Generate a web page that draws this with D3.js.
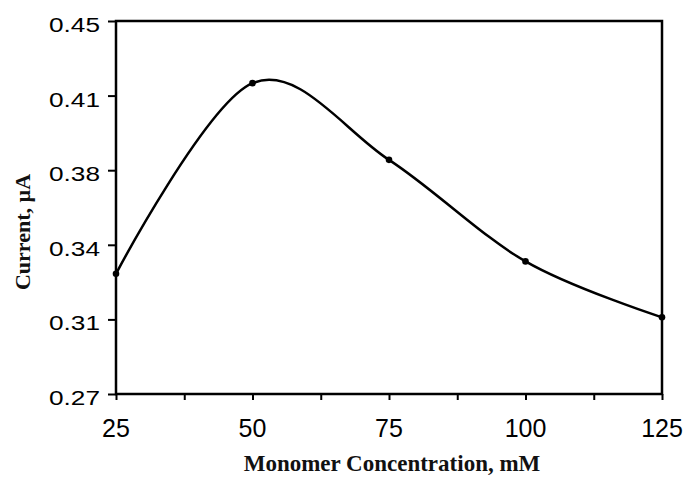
<!DOCTYPE html>
<html>
<head>
<meta charset="utf-8">
<script src="https://cdn.jsdelivr.net/npm/d3@7"></script>
<style>
  html, body { margin: 0; padding: 0; background: #fff; }
  svg { display: block; }
</style>
</head>
<body>
<svg id="chart" width="686" height="477"></svg>
<script>
const concentrations = [25, 50, 75, 100, 125];
const currents = [0.328, 0.420, 0.383, 0.334, 0.307];
const xTickValues = [25, 50, 75, 100, 125];
const xMinorTicks = [37.5, 62.5, 87.5, 112.5];
const yTickValues = [0.27, 0.306, 0.342, 0.378, 0.414, 0.45];
const yTickLabels = ["0.27", "0.31", "0.34", "0.38", "0.41", "0.45"];
const xTitle = "Monomer Concentration, mM";
const yTitle = "Current, µA";

const margin = {left: 116, top: 21, right: 24, bottom: 83};
const W = 686, H = 477;
const svg = d3.select("#chart");

const x = d3.scaleLinear().domain([25, 125]).range([margin.left, W - margin.right]);
const y = d3.scaleLinear().domain([0.27, 0.45]).range([H - margin.bottom, margin.top]);

// Y axis ticks (outward, left)
const yAxis = d3.axisLeft(y).tickValues(yTickValues).tickSize(8).tickFormat("");
const gy = svg.append("g").attr("transform", `translate(${margin.left},0)`).call(yAxis);
gy.select(".domain").remove();
gy.selectAll("line").attr("stroke", "#000").attr("stroke-width", 2);

svg.append("g").selectAll("text").data(yTickValues).join("text")
  .attr("x", 100)
  .attr("y", d => y(d) + 11)
  .attr("text-anchor", "end")
  .attr("font-family", "Liberation Sans, Arial, sans-serif")
  .attr("font-size", 20)
  .attr("textLength", 51)
  .attr("lengthAdjust", "spacingAndGlyphs")
  .attr("fill", "#000")
  .text((d, i) => yTickLabels[i]);

// X axis ticks (outward, bottom)
const xAxis = d3.axisBottom(x).tickValues(xTickValues.concat(xMinorTicks)).tickSize(6).tickFormat("");
const gx = svg.append("g").attr("transform", `translate(0,${y(0.27)})`).call(xAxis);
gx.select(".domain").remove();
gx.selectAll("line").attr("stroke", "#000").attr("stroke-width", 2);

svg.append("g").selectAll("text").data(xTickValues).join("text")
  .attr("x", d => x(d))
  .attr("y", y(0.27) + 43)
  .attr("text-anchor", "middle")
  .attr("font-family", "Liberation Sans, Arial, sans-serif")
  .attr("font-size", 25)
  .attr("fill", "#000")
  .text(d => d);

// Frame
svg.append("rect")
  .attr("x", x(25)).attr("y", y(0.45))
  .attr("width", x(125) - x(25)).attr("height", y(0.27) - y(0.45))
  .attr("fill", "none").attr("stroke", "#000").attr("stroke-width", 2.5);

// Curve
const data = concentrations.map((c, i) => ({c, v: currents[i]}));
const line = d3.line().x(d => x(d.c)).y(d => y(d.v)).curve(d3.curveCardinal.tension(0));
svg.append("path").datum(data)
  .attr("d", line)
  .attr("fill", "none").attr("stroke", "#000").attr("stroke-width", 2.5);

svg.append("g").selectAll("circle").data(data).join("circle")
  .attr("cx", d => x(d.c)).attr("cy", d => y(d.v)).attr("r", 3.3)
  .attr("fill", "#000");

// Axis titles
svg.append("text")
  .attr("x", 392).attr("y", 471)
  .attr("text-anchor", "middle")
  .attr("font-family", "Liberation Serif, Times New Roman, serif")
  .attr("font-weight", "bold")
  .attr("font-size", 23)
  .attr("fill", "#111")
  .text(xTitle);

svg.append("text")
  .attr("transform", "translate(30,232) rotate(-90)")
  .attr("text-anchor", "middle")
  .attr("font-family", "Liberation Serif, Times New Roman, serif")
  .attr("font-weight", "bold")
  .attr("font-size", 22)
  .attr("fill", "#111")
  .text(yTitle);
</script>
</body>
</html>
